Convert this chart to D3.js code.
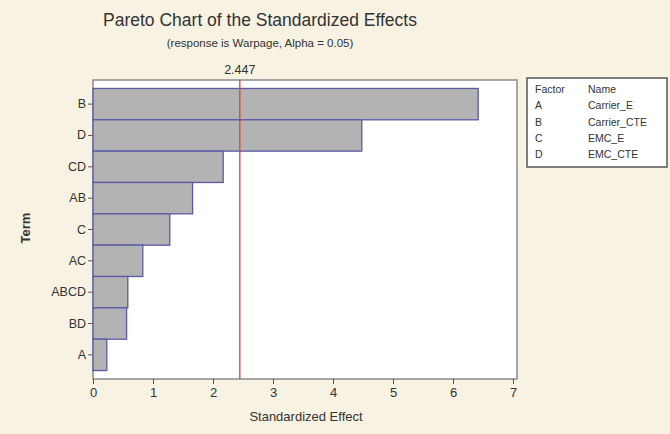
<!DOCTYPE html>
<html>
<head>
<meta charset="utf-8">
<script src="https://cdn.jsdelivr.net/npm/d3@7"></script>
<style>
  body { margin: 0; background: #f7f2e2; }
  text { font-family: "Liberation Sans", Arial, sans-serif; fill: #333; }
</style>
</head>
<body>
<div id="chart"></div>
<script>
// terms in Pareto order, with their standardized effects
var terms = ["B", "D", "CD", "AB", "C", "AC", "ABCD", "BD", "A"];
var effects = [6.42, 4.48, 2.17, 1.66, 1.28, 0.83, 0.58, 0.56, 0.23];
var critical = 2.447;
var xTicks = [0, 1, 2, 3, 4, 5, 6, 7];
var factorCodes = ["A", "B", "C", "D"];
var factorNames = ["Carrier_E", "Carrier_CTE", "EMC_E", "EMC_CTE"];

function init(){
    var w = 670, h = 434;
    var left = 93, top = 80, right = 517, bottom = 379;

    var svg = d3.select("#chart").append("svg")
        .attr("width", w)
        .attr("height", h);

    svg.append("rect").attr("width", w).attr("height", h).attr("fill", "#f7f2e2");

    var xScale = d3.scaleLinear().domain([0, 7]).range([left, left + 420]);
    var yScale = d3.scaleBand().domain(terms).range([top, bottom]).paddingOuter(0.27).paddingInner(0);

    // plot area
    svg.append("rect")
        .attr("x", left).attr("y", top)
        .attr("width", right - left).attr("height", bottom - top)
        .attr("fill", "#fff")
        .attr("stroke", "#8a8a8a")
        .attr("stroke-width", 1.5);

    var data = terms.map(function(t, i){ return {term: t, value: effects[i]}; });

    svg.selectAll("rect.bar")
        .data(data)
        .enter().append("rect")
        .attr("class", "bar")
        .attr("x", xScale(0))
        .attr("y", function(d){ return yScale(d.term); })
        .attr("width", function(d){ return xScale(d.value) - xScale(0); })
        .attr("height", yScale.bandwidth())
        .attr("fill", "#b3b3b3")
        .attr("stroke", "#5a5aa8")
        .attr("stroke-width", 1.3);

    // reference line
    svg.append("line")
        .attr("x1", xScale(critical)).attr("x2", xScale(critical))
        .attr("y1", top).attr("y2", bottom)
        .attr("stroke", "#e03c3c")
        .attr("stroke-width", 1.3);

    svg.append("text")
        .attr("x", xScale(critical))
        .attr("y", 74)
        .attr("text-anchor", "middle")
        .attr("font-size", 12.5)
        .text(critical.toFixed(3));

    // axes
    var xAxis = d3.axisBottom(xScale).tickValues(xTicks).tickFormat(d3.format("d")).tickSize(5).tickPadding(4);
    var gx = svg.append("g")
        .attr("transform", `translate(0,${bottom})`)
        .call(xAxis);
    gx.select(".domain").remove();
    gx.selectAll("line").attr("stroke", "#555");
    gx.selectAll("text").attr("font-size", 13).attr("fill", "#555");

    var yAxis = d3.axisLeft(yScale).tickSize(5).tickPadding(2);
    var gy = svg.append("g")
        .attr("transform", `translate(${left},0)`)
        .call(yAxis);
    gy.select(".domain").remove();
    gy.selectAll("line").attr("stroke", "#555");
    gy.selectAll("text").attr("font-size", 12.5).attr("fill", "#555");

    // titles
    svg.append("text")
        .attr("x", 260).attr("y", 26)
        .attr("text-anchor", "middle")
        .attr("font-size", 17.5)
        .attr("fill", "#222")
        .text("Pareto Chart of the Standardized Effects");

    svg.append("text")
        .attr("x", 260).attr("y", 47)
        .attr("text-anchor", "middle")
        .attr("font-size", 11.5)
        .text("(response is Warpage, Alpha = 0.05)");

    svg.append("text")
        .attr("x", 306).attr("y", 421)
        .attr("text-anchor", "middle")
        .attr("font-size", 13)
        .text("Standardized Effect");

    svg.append("text")
        .attr("transform", "translate(30,228) rotate(-90)")
        .attr("text-anchor", "middle")
        .attr("font-size", 13)
        .attr("font-weight", "bold")
        .attr("fill", "#444")
        .text("Term");

    // factor legend
    svg.append("rect")
        .attr("x", 527).attr("y", 78)
        .attr("width", 140).attr("height", 89)
        .attr("fill", "#fff")
        .attr("stroke", "#555")
        .attr("stroke-width", 1.5);

    var rowY = d3.scalePoint().domain(d3.range(5)).range([93, 158]);
    var rows = [["Factor", "Name"]].concat(factorCodes.map(function(c, i){ return [c, factorNames[i]]; }));

    rows.forEach(function(r, i){
        svg.append("text").attr("x", 535).attr("y", rowY(i))
            .attr("font-size", 10.5).attr("fill", "#555").text(r[0]);
        svg.append("text").attr("x", 588).attr("y", rowY(i))
            .attr("font-size", 10.5).attr("fill", "#555").text(r[1]);
    });
}
window.onload = init;
</script>
</body>
</html>
